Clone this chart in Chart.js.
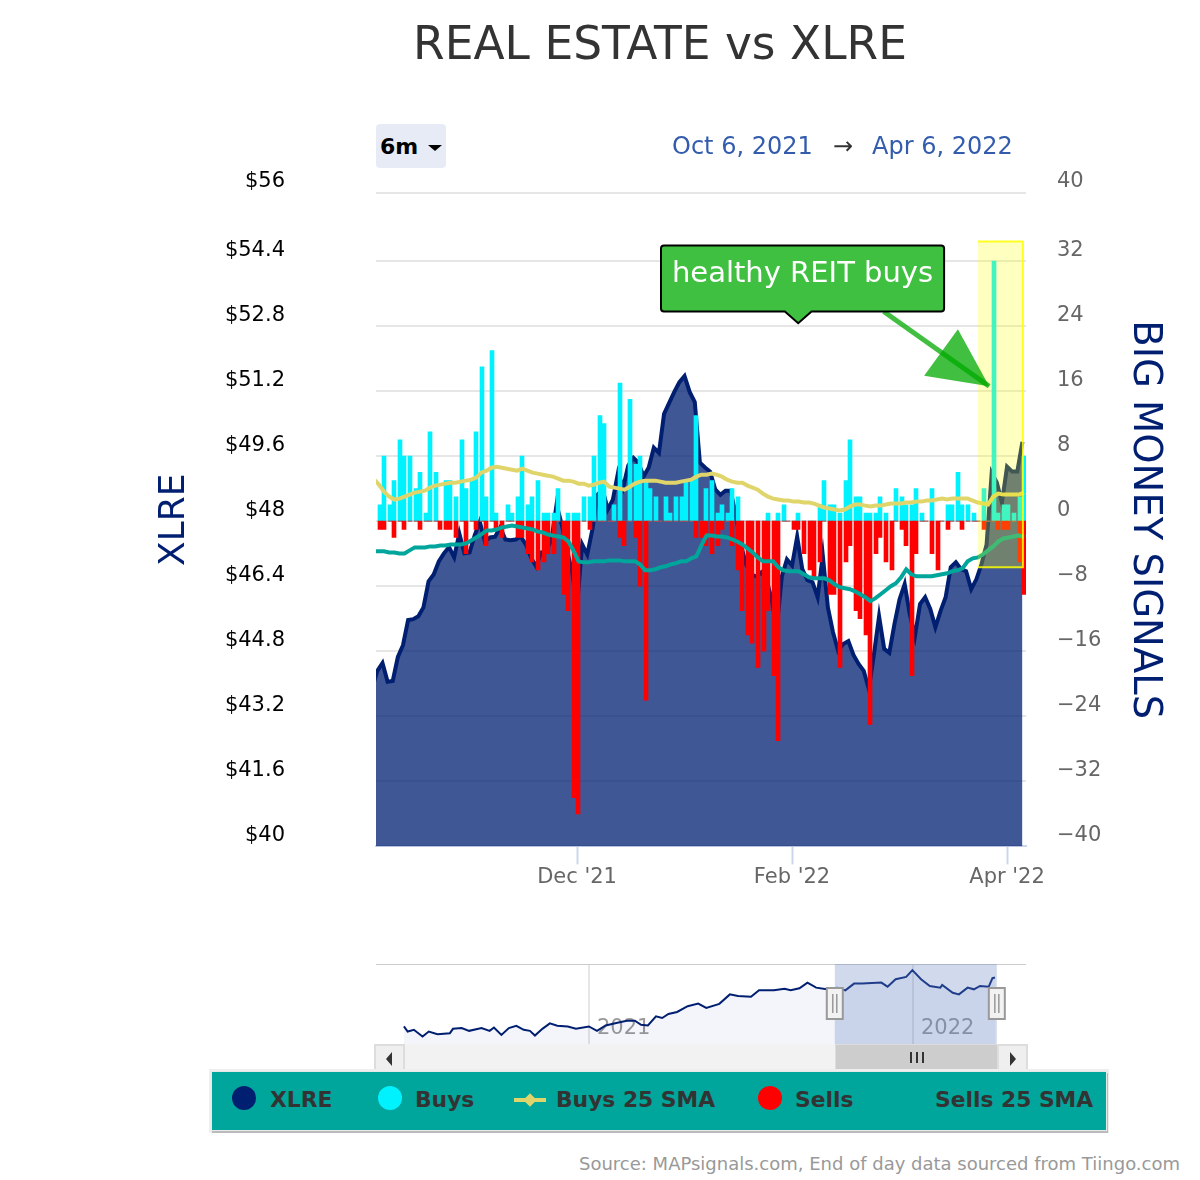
<!DOCTYPE html>
<html>
<head>
<meta charset="utf-8">
<title>REAL ESTATE vs XLRE</title>
<script src="https://cdn.jsdelivr.net/npm/chart.js@4"></script>
<style>
  html, body { margin: 0; padding: 0; background: #fff; }
  body { position: relative; width: 1200px; height: 1180px; overflow: hidden; font-family: "DejaVu Sans", sans-serif; }
  canvas { position: absolute; }
  .abs { position: absolute; white-space: nowrap; }
  #range-btn { left: 376px; top: 124px; width: 70px; height: 44px; background: #e6ebf5; border-radius: 4px; font-weight: bold; font-size: 22px; line-height: 46px; color: #000; text-indent: 4px; }
  #range-btn i { position: absolute; left: 52px; top: 21px; border-left: 7px solid transparent; border-right: 7px solid transparent; border-top: 6px solid #000; }
  .date { top: 130px; font-size: 24px; line-height: 32px; color: #335cad; }
  #legend { left: 211px; top: 1071px; width: 894px; height: 58px; background: #00a59b; border: 1px solid #e8e8e8; box-shadow: 1px 2px 0 #bbb, 0 0 0 2px #eee; }
  #legend span { position: absolute; top: 13px; font-weight: bold; font-size: 21.8px; line-height: 30px; color: #333; }
  #legend b { position: absolute; top: 14px; width: 24px; height: 24px; border-radius: 50%; }
  #source { right: 20px; top: 1153px; font-size: 18px; line-height: 22px; color: #999; }
  #track { left: 376px; top: 1044px; width: 650px; height: 28px; background: #f2f2f2; }
  .sbtn { top: 1044px; width: 27px; height: 26px; background: #efefef; border: 2px solid #ddd; }
  .sbtn i { position: absolute; top: 6px; }
  #thumb { left: 835px; top: 1044px; width: 163px; height: 28px; background: #cdcdcd; border: 1px solid #ddd; box-sizing: border-box; }
  .grip { position: absolute; top: 7px; width: 2px; height: 11px; background: #333; }
</style>
</head>
<body>

<canvas id="main" width="1080" height="950" style="left:120px;top:0"></canvas>
<canvas id="nav" width="650" height="80" style="left:376px;top:964px"></canvas>

<div class="abs" id="range-btn">6m<i></i></div>
<div class="abs date" style="left:672px">Oct 6, 2021</div>
<div class="abs date" style="left:833px;color:#333">→</div>
<div class="abs date" style="left:872px">Apr 6, 2022</div>

<div class="abs" id="track"></div>
<div class="abs sbtn" style="left:374px"><i style="left:10px;border-top:7px solid transparent;border-bottom:7px solid transparent;border-right:6px solid #333"></i></div>
<div class="abs sbtn" style="left:997px"><i style="left:11px;border-top:7px solid transparent;border-bottom:7px solid transparent;border-left:6px solid #333"></i></div>
<div class="abs" id="thumb">
  <div class="grip" style="left:74px"></div>
  <div class="grip" style="left:80px"></div>
  <div class="grip" style="left:86px"></div>
</div>

<div class="abs" id="legend">
  <b style="left:20px;background:#001f71"></b><span style="left:58px">XLRE</span>
  <b style="left:166px;background:#00f2ff"></b><span style="left:203px">Buys</span>
  <span style="left:344px">Buys 25 SMA</span>
  <b style="left:546px;background:#ff0000"></b><span style="left:583px">Sells</span>
  <span style="left:723px">Sells 25 SMA</span>
  <div style="position:absolute;left:302px;top:26px;width:32px;height:4px;background:#e0d56b"></div>
  <div style="position:absolute;left:312px;top:22px;width:12px;height:12px;background:#e0d56b;transform:rotate(45deg) scale(.8)"></div>
</div>

<div class="abs" id="source">Source: MAPsignals.com, End of day data sourced from Tiingo.com</div>

<script>
/* Data */
// index -1 is the session before the window, it only shows as the clipped start of each line
const xlrePrice = [
  43.9,
  44.32, 44.51, 44.05, 44.07, 44.66, 44.95, 45.57, 45.59, 45.66, 45.88,
  46.52, 46.69, 47.01, 47.21, 47.36, 47.11, 47.70, 47.21, 47.23, 47.65,
  47.99, 47.50, 47.60, 47.62, 47.85, 47.55, 47.53, 47.55, 47.62, 47.43,
  47.11, 46.89, 47.23, 47.26, 47.55, 48.41, 47.92, 47.31, 46.77, 45.88,
  47.43, 47.18, 47.80, 48.65, 48.78, 48.29, 48.53, 49.19, 48.83, 49.37,
  49.56, 49.44, 49.10, 49.32, 49.81, 49.68, 50.64, 50.91, 51.18, 51.42,
  51.57, 51.18, 50.93, 49.44, 49.32, 49.22, 48.78, 48.65, 48.75, 48.75,
  48.16, 47.43, 46.94, 46.69, 46.64, 46.74, 46.57, 46.08, 45.35, 46.64,
  47.06, 46.91, 47.62, 46.82, 46.55, 46.50, 46.13, 47.16, 45.88, 45.27,
  44.81, 44.98, 45.05, 44.71, 44.49, 44.32, 43.87, 44.73, 45.66, 44.86,
  44.76, 45.47, 46.08, 46.45, 45.71, 45.17, 45.96, 46.13, 45.84, 45.39,
  45.79, 46.13, 46.87, 46.99, 46.82, 46.77, 46.33, 46.57, 46.94, 47.43,
  49.19, 48.95, 48.46, 49.34, 49.22, 49.22, 49.95
];
const buys = [
  2, 8, 2, 5, 10, 8, 8, 4, 6, 1,
  11, 6, 0, 5, 5, 3, 10, 4, 5, 11,
  19, 3, 21, 1, 0, 2, 1, 3, 8, 2,
  3, 5, 1, 1, 1, 4, 0, 1, 1, 1,
  3, 3, 8, 13, 12, 0, 2, 17, 0, 15,
  7, 8, 5, 4, 3, 0, 3, 1, 3, 3,
  5, 5, 13, 0, 4, 5, 1, 2, 1, 4,
  3, 0, 0, 0, 0, 0, 1, 0, 1, 2,
  0, 0, 1, 0, 0, 0, 2, 5, 2, 2,
  1, 5, 10, 3, 3, 1, 1, 1, 3, 1,
  0, 4, 3, 2, 2, 4, 1, 0, 4, 0,
  0, 2, 2, 6, 2, 2, 1, 0, 4, 0,
  32, 1, 2, 2, 1, 3, 8
];
const sells = [
  -1, -1, 0, -2, 0, -1, 0, 0, -1, 0,
  0, 0, -1, -1, -1, -2, 0, -4, 0, -1,
  0, -3, 0, -1, -2, 0, 0, -2, -2, -4,
  -5, -6, -5, -4, -4, 0, -9, -11, -34, -36,
  0, -1, 0, 0, 0, 0, 0, -2, -3, 0,
  -2, -8, -22, 0, 0, 0, 0, 0, 0, 0,
  0, 0, -2, -2, -3, -4, -3, -1, 0, -3,
  -6, -11, -14, -15, -18, -16, -11, -19, -27, 0,
  0, -1, -1, -4, -6, -7, -5, 0, -9, -9,
  -18, -5, -3, -11, -12, -14, -25, -4, -2, -5,
  -6, 0, -1, -3, -19, -4, 0, 0, -4, -6,
  0, -1, 0, 0, -1, 0, 0, 0, -1, 0,
  0, -1, -1, -1, 0, -5, -9
];
const buysSma = [
  5.2,
  4.50, 3.64, 3.03, 2.66, 2.78, 3.03, 3.27, 3.52, 3.64, 3.76,
  4.13, 4.38, 4.50, 4.62, 4.74, 4.74, 4.87, 4.99, 5.11, 5.36,
  5.97, 6.21, 6.58, 6.70, 6.58, 6.46, 6.34, 6.21, 6.46, 6.21,
  5.97, 5.85, 5.72, 5.60, 5.48, 5.23, 4.99, 4.99, 4.87, 4.62,
  4.62, 4.38, 4.50, 4.74, 4.87, 4.25, 4.13, 4.01, 3.88, 4.25,
  4.62, 4.87, 4.99, 4.99, 4.99, 4.87, 4.74, 4.74, 4.74, 4.87,
  4.99, 5.11, 5.48, 5.72, 5.72, 5.85, 5.72, 5.48, 5.11, 4.87,
  4.74, 4.74, 4.38, 4.13, 3.88, 3.39, 3.03, 2.78, 2.66, 2.54,
  2.54, 2.41, 2.41, 2.29, 2.29, 2.17, 1.92, 1.68, 1.56, 1.43,
  1.31, 1.43, 1.80, 2.05, 2.05, 1.92, 1.80, 1.92, 1.92, 2.05,
  2.17, 2.17, 2.17, 2.29, 2.29, 2.41, 2.41, 2.54, 2.54, 2.66,
  2.78, 2.66, 2.78, 2.78, 2.78, 2.78, 2.54, 2.29, 2.17, 2.05,
  3.03, 3.39, 3.27, 3.27, 3.27, 3.27, 3.52
];
const sellsSma = [
  -3.7,
  -3.71, -3.71, -3.84, -3.84, -3.96, -3.96, -3.59, -3.22, -3.22, -3.22,
  -3.10, -3.10, -2.98, -2.98, -2.86, -2.86, -2.86, -2.73, -2.37, -2.00,
  -1.63, -1.14, -1.14, -1.02, -0.77, -0.65, -0.53, -0.65, -0.77, -0.89,
  -1.02, -1.26, -1.38, -1.63, -1.75, -1.88, -2.00, -2.49, -3.59, -4.94,
  -5.06, -5.06, -4.94, -4.94, -4.94, -4.82, -4.82, -4.82, -4.94, -4.94,
  -4.94, -5.31, -6.04, -6.04, -5.92, -5.67, -5.55, -5.31, -5.18, -4.94,
  -4.94, -4.57, -4.33, -2.98, -1.75, -1.75, -1.88, -1.88, -2.00, -2.24,
  -2.49, -2.86, -3.35, -3.84, -4.45, -4.94, -4.94, -4.94, -5.67, -6.04,
  -6.16, -6.16, -6.16, -6.53, -6.90, -7.02, -7.02, -7.02, -7.27, -7.76,
  -8.12, -8.25, -8.37, -8.62, -8.98, -9.35, -9.84, -9.47, -8.98, -8.49,
  -8.00, -7.63, -6.90, -5.92, -6.53, -6.78, -6.78, -6.78, -6.78, -6.65,
  -6.53, -6.41, -6.16, -6.04, -5.80, -4.94, -4.57, -4.45, -4.08, -3.59,
  -3.10, -2.49, -2.12, -2.00, -1.88, -1.75, -2.00
];

const priceTicks = [40, 41.6, 43.2, 44.8, 46.4, 48, 49.6, 51.2, 52.8, 54.4, 56];
const signalTicks = [-40, -32, -24, -16, -8, 0, 8, 16, 24, 32, 40];
const monthTicks = [39, 81, 123];
const monthLabels = ["Dec '21", "Feb '22", "Apr '22"];

const navWeeks = [
  0, 0.6, 1.6, 3, 4, 5.4, 7.4, 7.9, 9.3, 10.5,
  12.5, 13.8, 14.5, 15.7, 16.9, 18.1, 19.3, 20.3, 21.1, 22.3,
  23.5, 24.7, 26.4, 27.7, 29.8, 31.1, 32.5, 34.2, 35.9, 37.2,
  38.2, 39.3, 40.6, 41.6, 42.6, 44, 45.7, 47.4, 48.7, 50.8,
  52.5, 53.8, 55.9, 57.2, 59.6, 61.3, 62.3, 63.7, 65, 66.4,
  68.1, 69.8, 71.1, 72.5, 73.8, 76.9, 77.9, 79.2, 80.9, 81.9,
  83.3, 84.7, 86.4, 86.7, 88.4, 89.4, 90.8, 91.8, 92.8, 94.2,
  94.8, 95.2
];
const navPrice = [
  33.75, 32.15, 32.68, 30.55, 32.15, 31.3, 31.62, 33.0, 33.22, 32.36,
  33.22, 32.36, 33.43, 31.08, 33.22, 33.96, 32.68, 32.36, 30.87, 33.0,
  34.71, 33.96, 33.75, 33.0, 33.75, 32.36, 34.07, 34.82, 35.56, 35.56,
  34.28, 34.07, 36.95, 36.42, 37.7, 38.34, 40.15, 41.0, 39.62, 40.9,
  43.89, 43.35, 43.14, 45.17, 45.17, 45.7, 45.17, 45.81, 47.62, 46.02,
  45.49, 46.02, 45.17, 47.3, 47.3, 47.62, 46.34, 48.69, 49.43, 51.57,
  48.69, 46.55, 46.02, 46.87, 44.42, 43.89, 46.02, 45.49, 46.55, 46.34,
  49.01, 49.22
];
const navTicks = [29.8, 82];
const navLabels = ["2021", "2022"];
const navSelected = [69.4, 95.5];

/* Colours */
const navy = "#001f71";
const yellowLine = "#e0d56b";
const tealLine = "#00a59b";

function points(values, shift) {
  return values.map(function (v, i) { return { x: i + shift, y: v }; });
}

// reference snaps every column to an even pixel
const snapBars = {
  id: "snapBars",
  afterDatasetsUpdate: function (chart) {
    chart.getSortedVisibleDatasetMetas().forEach(function (meta) {
      if (meta.type !== "bar") return;
      meta.data.forEach(function (el) { el.x = Math.floor(el.x / 2) * 2; });
    });
  }
};

// yellow box + green callout, placed in scale units so it follows the axes
const annotations = {
  id: "annotations",
  afterDatasetsDraw: function (chart) {
    const c = chart.ctx;
    const sx = function (v) { return chart.scales.x.getPixelForValue(v); };
    const sy = function (v) { return chart.scales.y2.getPixelForValue(v); };

    c.save();
    // band
    c.fillStyle = "rgba(255,255,0,0.25)";
    c.fillRect(sx(117.3), sy(34.4), sx(126.1) - sx(117.3), sy(-5.67) - sy(34.4));
    c.strokeStyle = "rgba(255,255,0,0.85)";
    c.lineWidth = 2;
    c.beginPath();
    c.moveTo(sx(117.3), sy(34.4));
    c.lineTo(sx(126.1), sy(34.4));
    c.lineTo(sx(126.1), sy(-5.67));
    c.lineTo(sx(117.3), sy(-5.67));
    c.stroke();

    // arrow
    c.strokeStyle = "rgba(0,170,0,0.75)";
    c.fillStyle = "rgba(0,170,0,0.75)";
    c.lineWidth = 5;
    c.beginPath();
    c.moveTo(sx(98.9), sy(25.8));
    c.lineTo(sx(119.5), sy(16.6));
    c.stroke();
    c.beginPath();
    c.moveTo(sx(113.4), sy(23.6));
    c.lineTo(sx(119.5), sy(16.6));
    c.lineTo(sx(106.8), sy(17.9));
    c.closePath();
    c.fill();

    // callout box
    const l = sx(55.4), r = sx(110.7), t = sy(33.9), b = sy(25.8), rad = 3;
    c.beginPath();
    c.moveTo(l + rad, t);
    c.arcTo(r, t, r, b, rad);
    c.arcTo(r, b, l, b, rad);
    c.lineTo(sx(84.8), b);
    c.lineTo(sx(82.2), sy(24.35));
    c.lineTo(sx(79.6), b);
    c.arcTo(l, b, l, t, rad);
    c.arcTo(l, t, r, t, rad);
    c.closePath();
    c.fillStyle = "#40c040";
    c.fill();
    c.strokeStyle = "#000";
    c.lineWidth = 2;
    c.stroke();

    c.fillStyle = "#fff";
    c.font = '29px "DejaVu Sans"';
    c.textAlign = "center";
    c.textBaseline = "middle";
    c.fillText("healthy REIT buys", (l + r) / 2, t + 29);
    c.restore();
  }
};

new Chart(document.getElementById("main"), {
  type: "bar",
  plugins: [snapBars, annotations],
  data: {
    datasets: [
      {
        type: "line", label: "Buys 25 SMA", yAxisID: "y2", order: 2,
        data: points(buysSma, -0.7), borderColor: yellowLine, borderWidth: 4, pointRadius: 0
      },
      {
        type: "line", label: "Sells 25 SMA", yAxisID: "y2", order: 1,
        data: points(sellsSma, -0.7), borderColor: tealLine, borderWidth: 4, pointRadius: 0
      },
      {
        label: "Buys", yAxisID: "y2", order: 4, grouped: false,
        data: points(buys, 0.55), backgroundColor: "#00f2ff", barThickness: 4
      },
      {
        label: "Sells", yAxisID: "y2", order: 3, grouped: false,
        data: points(sells, 0.55), backgroundColor: "#ff0000", barThickness: 4
      },
      {
        type: "line", label: "XLRE", yAxisID: "y", order: 5,
        data: points(xlrePrice, -1), borderColor: navy, borderWidth: 4, pointRadius: 0,
        fill: "start", backgroundColor: "rgba(0,31,113,0.75)"
      }
    ]
  },
  options: {
    responsive: false,
    animation: false,
    layout: { padding: 0 },
    plugins: {
      legend: { display: false },
      tooltip: { enabled: false },
      title: {
        display: true,
        text: "REAL ESTATE vs XLRE",
        color: "#333333",
        font: { family: "DejaVu Sans", size: 45.5, weight: "normal" },
        padding: { top: 20, bottom: 118.4 }
      }
    },
    scales: {
      x: {
        type: "linear",
        offset: false,
        min: -0.27,
        max: 126.7,
        afterBuildTicks: function (scale) {
          scale.ticks = monthTicks.map(function (v) { return { value: v }; });
        },
        afterFit: function (scale) { scale.height = 54; },
        grid: { offset: false, drawOnChartArea: false, tickLength: 18, tickColor: "#ccd6eb", tickWidth: 2 },
        border: { color: "#ccd6eb", width: 2 },
        ticks: {
          color: "#666666",
          font: { family: "DejaVu Sans", size: 21 },
          padding: 1,
          maxRotation: 0,
          autoSkip: false,
          callback: function (v) { return monthLabels[monthTicks.indexOf(v)]; }
        }
      },
      y: {
        position: "left",
        min: 40,
        max: 56.074, // top gridline sits 3px above the even tick spacing
        afterBuildTicks: function (scale) {
          scale.ticks = priceTicks.map(function (v) { return { value: v === 56 ? scale.max : v }; });
        },
        afterFit: function (scale) { scale.width = 256; },
        grid: { color: "#e6e6e6", lineWidth: 2, drawTicks: false },
        border: { display: false },
        ticks: {
          color: "#000000",
          font: { family: "DejaVu Sans", size: 21 },
          padding: 91,
          labelOffset: -11,
          callback: function (v, i) { return "$" + priceTicks[i]; }
        },
        title: {
          display: true, text: "XLRE", color: navy,
          font: { family: "DejaVu Sans", size: 36 },
          padding: { top: 33, bottom: 0 }
        }
      },
      y2: {
        position: "right",
        min: -40,
        max: 40.37,
        afterBuildTicks: function (scale) {
          scale.ticks = signalTicks.map(function (v) { return { value: v === 40 ? scale.max : v }; });
        },
        afterFit: function (scale) { scale.width = 174; },
        grid: { display: false, drawTicks: false },
        border: { display: false },
        ticks: {
          color: "#666666",
          font: { family: "DejaVu Sans", size: 21 },
          padding: 31,
          labelOffset: -11,
          callback: function (v, i) { return String(signalTicks[i]).replace("-", "\u2212"); }
        },
        title: {
          display: true, text: "BIG MONEY SIGNALS", color: navy,
          font: { family: "DejaVu Sans", size: 38.5 },
          padding: { top: 33, bottom: 0 }
        }
      }
    }
  }
});

// year labels sit inside the navigator, under its line
const navLabelsPlugin = {
  id: "navLabels",
  beforeDatasetsDraw: function (chart) {
    const c = chart.ctx;
    c.save();
    c.fillStyle = "#999999";
    c.font = '21px "DejaVu Sans"';
    c.textBaseline = "middle";
    navTicks.forEach(function (t, i) {
      c.fillText(navLabels[i], chart.scales.x.getPixelForValue(t) + 8, 65);
    });
    c.restore();
  }
};

// selected range and the two drag handles of the navigator
const navBand = {
  id: "navBand",
  afterDatasetsDraw: function (chart) {
    const c = chart.ctx;
    const area = chart.chartArea;
    const a = chart.scales.x.getPixelForValue(navSelected[0]);
    const b = chart.scales.x.getPixelForValue(navSelected[1]);
    c.save();
    c.fillStyle = "rgba(102,133,194,0.3)";
    c.fillRect(a, area.top, b - a, area.bottom - area.top);
    c.strokeStyle = "#999";
    c.fillStyle = "#f2f2f2";
    [a, b].forEach(function (p) {
      c.lineWidth = 2;
      c.fillRect(p - 8, 24, 16, 31);
      c.strokeRect(p - 8, 24, 16, 31);
      c.beginPath();
      c.moveTo(p - 2, 30); c.lineTo(p - 2, 49);
      c.moveTo(p + 2, 30); c.lineTo(p + 2, 49);
      c.lineWidth = 1.5;
      c.stroke();
    });
    c.restore();
  }
};

new Chart(document.getElementById("nav"), {
  type: "line",
  plugins: [navLabelsPlugin, navBand],
  data: {
    datasets: [{
      data: navWeeks.map(function (w, i) { return { x: w, y: navPrice[i] }; }),
      borderColor: navy, borderWidth: 2, pointRadius: 0,
      fill: "start", backgroundColor: "rgba(51,92,173,0.06)"
    }]
  },
  options: {
    responsive: false,
    animation: false,
    layout: { padding: 0 },
    plugins: { legend: { display: false }, tooltip: { enabled: false } },
    scales: {
      x: {
        type: "linear",
        min: -4.5,
        max: 100.2,
        afterBuildTicks: function (scale) {
          scale.ticks = navTicks.map(function (v) { return { value: v }; });
        },
        afterFit: function (scale) { scale.height = 0; },
        grid: { color: "#e6e6e6", lineWidth: 2, drawTicks: false },
        border: { display: false },
        ticks: { display: false }
      },
      y: {
        display: true,
        min: 28.2,
        max: 53.5,
        afterFit: function (scale) { scale.width = 0; },
        ticks: { display: false },
        grid: { color: "#cccccc", lineWidth: 2, drawTicks: false },
        border: { display: false },
        afterBuildTicks: function (scale) { scale.ticks = [{ value: 53.5 }]; }
      }
    }
  }
});
</script>
</body>
</html>
